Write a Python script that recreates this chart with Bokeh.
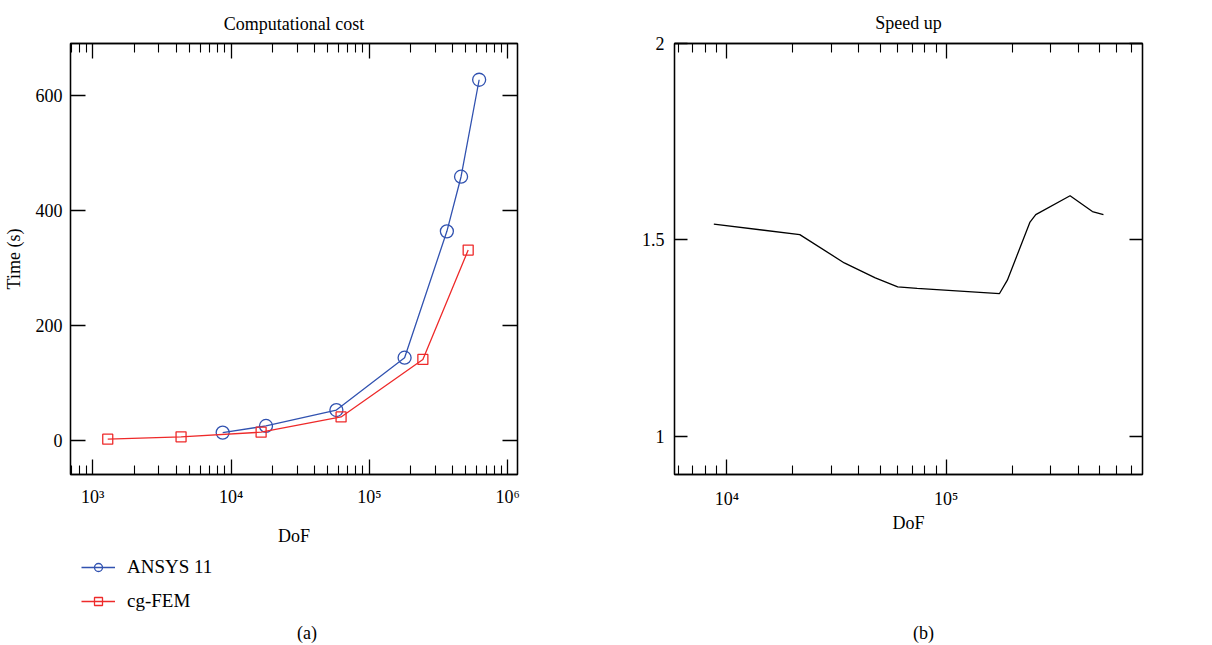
from bokeh.plotting import figure
from bokeh.models import (LogAxis, LinearAxis, FixedTicker, CustomJSTickFormatter,
                          Legend, LegendItem, Range1d)
from bokeh.layouts import row, column
from bokeh.embed import file_html
from bokeh.resources import INLINE

# ---- data ----
dof_ansys = [8700, 17900, 57800, 180000, 364000, 461000, 623000]
time_ansys = [13.8, 25.4, 53, 144, 363.6, 458.5, 627]
dof_cg = [1283, 4350, 16500, 62500, 244000, 519000]
time_cg = [2.4, 6.4, 14.5, 41, 141, 331]

dof_speed = [8720, 21500, 34300, 47500, 60100, 73700, 175000, 190000,
             241000, 256000, 367000, 464000, 521000]
speedup = [1.540, 1.513, 1.441, 1.403, 1.380, 1.376, 1.363, 1.397,
           1.545, 1.564, 1.612, 1.572, 1.564]

left_xticks = [1e3, 1e4, 1e5, 1e6]
left_yticks = [0, 200, 400, 600]
right_xticks = [1e4, 1e5]
right_yticks = [1, 1.5, 2]

FONT = "Liberation Serif"
FS = "18px"
BLUE = "#3152b0"
RED = "#ee2a2a"

SUP = CustomJSTickFormatter(code="""
const s = {'0':'\u2070','1':'\u00b9','2':'\u00b2','3':'\u00b3','4':'\u2074','5':'\u2075','6':'\u2076','7':'\u2077','8':'\u2078','9':'\u2079'};
const e = String(Math.round(Math.log10(tick)));
let out = '';
for (const c of e) out += s[c];
return '10' + out;
""")
BLANK = CustomJSTickFormatter(code="return '';")
PLAIN = CustomJSTickFormatter(code="return String(tick);")


def minor_log(lo, hi):
    m = []
    d = 10.0 ** lo
    while d < 10.0 ** hi:
        for k in range(2, 10):
            m.append(k * d)
        d *= 10
    return m


def style_axis(ax, major_in, minor_in):
    ax.major_tick_in = major_in
    ax.major_tick_out = 0
    ax.minor_tick_in = minor_in
    ax.minor_tick_out = 0
    ax.axis_line_color = "black"
    ax.axis_line_width = 1.3
    ax.major_tick_line_color = "black"
    ax.major_tick_line_width = 1.3
    ax.minor_tick_line_color = "black"
    ax.minor_tick_line_width = 1.1
    ax.major_label_text_font = FONT
    ax.major_label_text_font_size = FS
    ax.major_label_text_color = "black"
    ax.axis_label_text_font = FONT
    ax.axis_label_text_font_size = FS
    ax.axis_label_text_font_style = "normal"
    ax.axis_label_text_color = "black"


def style_title(t, standoff):
    t.text_font = FONT
    t.text_font_size = FS
    t.text_font_style = "normal"
    t.align = "center"
    t.text_color = "black"
    t.standoff = standoff


def build(p, xticks, xminor, yticks, ytick_len, title_standoff):
    xt = FixedTicker(ticks=xticks, minor_ticks=xminor)
    yt = FixedTicker(ticks=yticks, minor_ticks=[])
    bx = p.below[0]
    bx.ticker = xt
    bx.formatter = SUP
    style_axis(bx, 15, 9)
    ly = p.left[0]
    ly.ticker = yt
    ly.formatter = PLAIN
    style_axis(ly, ytick_len, 0)
    top = LogAxis(ticker=xt, formatter=BLANK, major_label_standoff=0)
    style_axis(top, 15, 9)
    top.major_label_text_font_size = "1px"
    p.add_layout(top, "above")
    rgt = LinearAxis(ticker=yt, formatter=BLANK, major_label_standoff=0)
    style_axis(rgt, ytick_len, 0)
    rgt.major_label_text_font_size = "1px"
    p.add_layout(rgt, "right")
    p.xgrid.visible = False
    p.ygrid.visible = False
    p.outline_line_color = "black"
    p.outline_line_width = 1.3
    style_title(p.title, title_standoff)


def caption(text, width, left, right):
    c = figure(width=width, height=33, title=text, title_location="below",
               x_axis_location=None, y_axis_location=None,
               min_border_left=left, min_border_right=right,
               min_border_top=0, min_border_bottom=25,
               toolbar_location=None, output_backend="svg",
               outline_line_color=None, background_fill_color="white",
               border_fill_color="white")
    c.xgrid.visible = False
    c.ygrid.visible = False
    style_title(c.title, 0)
    return c


# ---- left: computational cost ----
p1 = figure(x_axis_type="log", width=600, height=548,
            min_border_left=70, min_border_right=83, min_border_top=40,
            min_border_bottom=74,
            x_range=Range1d(690, 1.18e6), y_range=Range1d(-59, 690),
            title="Computational cost", toolbar_location=None,
            output_backend="svg", background_fill_color="white",
            border_fill_color="white")
build(p1, left_xticks, minor_log(2, 6), left_yticks, 15, 20)
p1.below[0].axis_label = "DoF"
p1.left[0].axis_label = "Time (s)"
p1.below[0].major_label_standoff = 12
p1.below[0].axis_label_standoff = 16
p1.left[0].major_label_standoff = 8
p1.left[0].axis_label_standoff = 9

p1.line(dof_ansys, time_ansys, line_color=BLUE, line_width=1.3)
p1.scatter(dof_ansys, time_ansys, marker="circle", size=13,
           line_color=BLUE, fill_color=None, line_width=1.3)
p1.line(dof_cg, time_cg, line_color=RED, line_width=1.3)
p1.scatter(dof_cg, time_cg, marker="square", size=10,
           line_color=RED, fill_color=None, line_width=1.3)

# ---- legend strip under the left chart (same series, drawn out of view) ----
leg = figure(width=600, height=64, x_axis_location=None, y_axis_location=None,
             min_border_left=70, min_border_right=83, min_border_top=0,
             min_border_bottom=0, x_range=Range1d(0, 1), y_range=Range1d(0, 1),
             toolbar_location=None, output_backend="svg",
             outline_line_color=None, background_fill_color="white",
             border_fill_color="white")
leg.xgrid.visible = False
leg.ygrid.visible = False
la = leg.line(dof_ansys, time_ansys, line_color=BLUE, line_width=1.3)
ca = leg.scatter(dof_ansys, time_ansys, marker="circle", size=13,
                 line_color=BLUE, fill_color=None, line_width=1.3)
lc = leg.line(dof_cg, time_cg, line_color=RED, line_width=1.3)
sc = leg.scatter(dof_cg, time_cg, marker="square", size=10,
                 line_color=RED, fill_color=None, line_width=1.3)
legend = Legend(items=[LegendItem(label="ANSYS 11", renderers=[la, ca]),
                       LegendItem(label="cg-FEM", renderers=[lc, sc])],
                location=(11, 0), orientation="vertical",
                border_line_color=None, background_fill_alpha=0,
                label_text_font=FONT, label_text_font_size="19px",
                label_text_color="black",
                glyph_width=34, glyph_height=20, label_height=20,
                spacing=12, padding=0, margin=0, label_standoff=12)
leg.add_layout(legend)

# ---- right: speed up ----
p2 = figure(x_axis_type="log", width=596, height=548,
            min_border_left=74, min_border_right=54, min_border_top=40,
            min_border_bottom=74,
            x_range=Range1d(5770, 785000), y_range=Range1d(0.902, 2.0),
            title="Speed up", toolbar_location=None, output_backend="svg",
            background_fill_color="white", border_fill_color="white")
build(p2, right_xticks, minor_log(3, 6)[4:-2], right_yticks, 13, 21)
p2.below[0].axis_label = "DoF"
p2.below[0].major_label_standoff = 14
p2.below[0].axis_label_standoff = 1
p2.left[0].major_label_standoff = 10
p2.line(dof_speed, speedup, line_color="black", line_width=1.3)

cap_a = caption("(a)", 600, 96, 83)
cap_b = caption("(b)", 596, 104, 54)

layout = column(row(p1, p2), leg, row(cap_a, cap_b))
open("out.html", "w").write(file_html(layout, INLINE))
